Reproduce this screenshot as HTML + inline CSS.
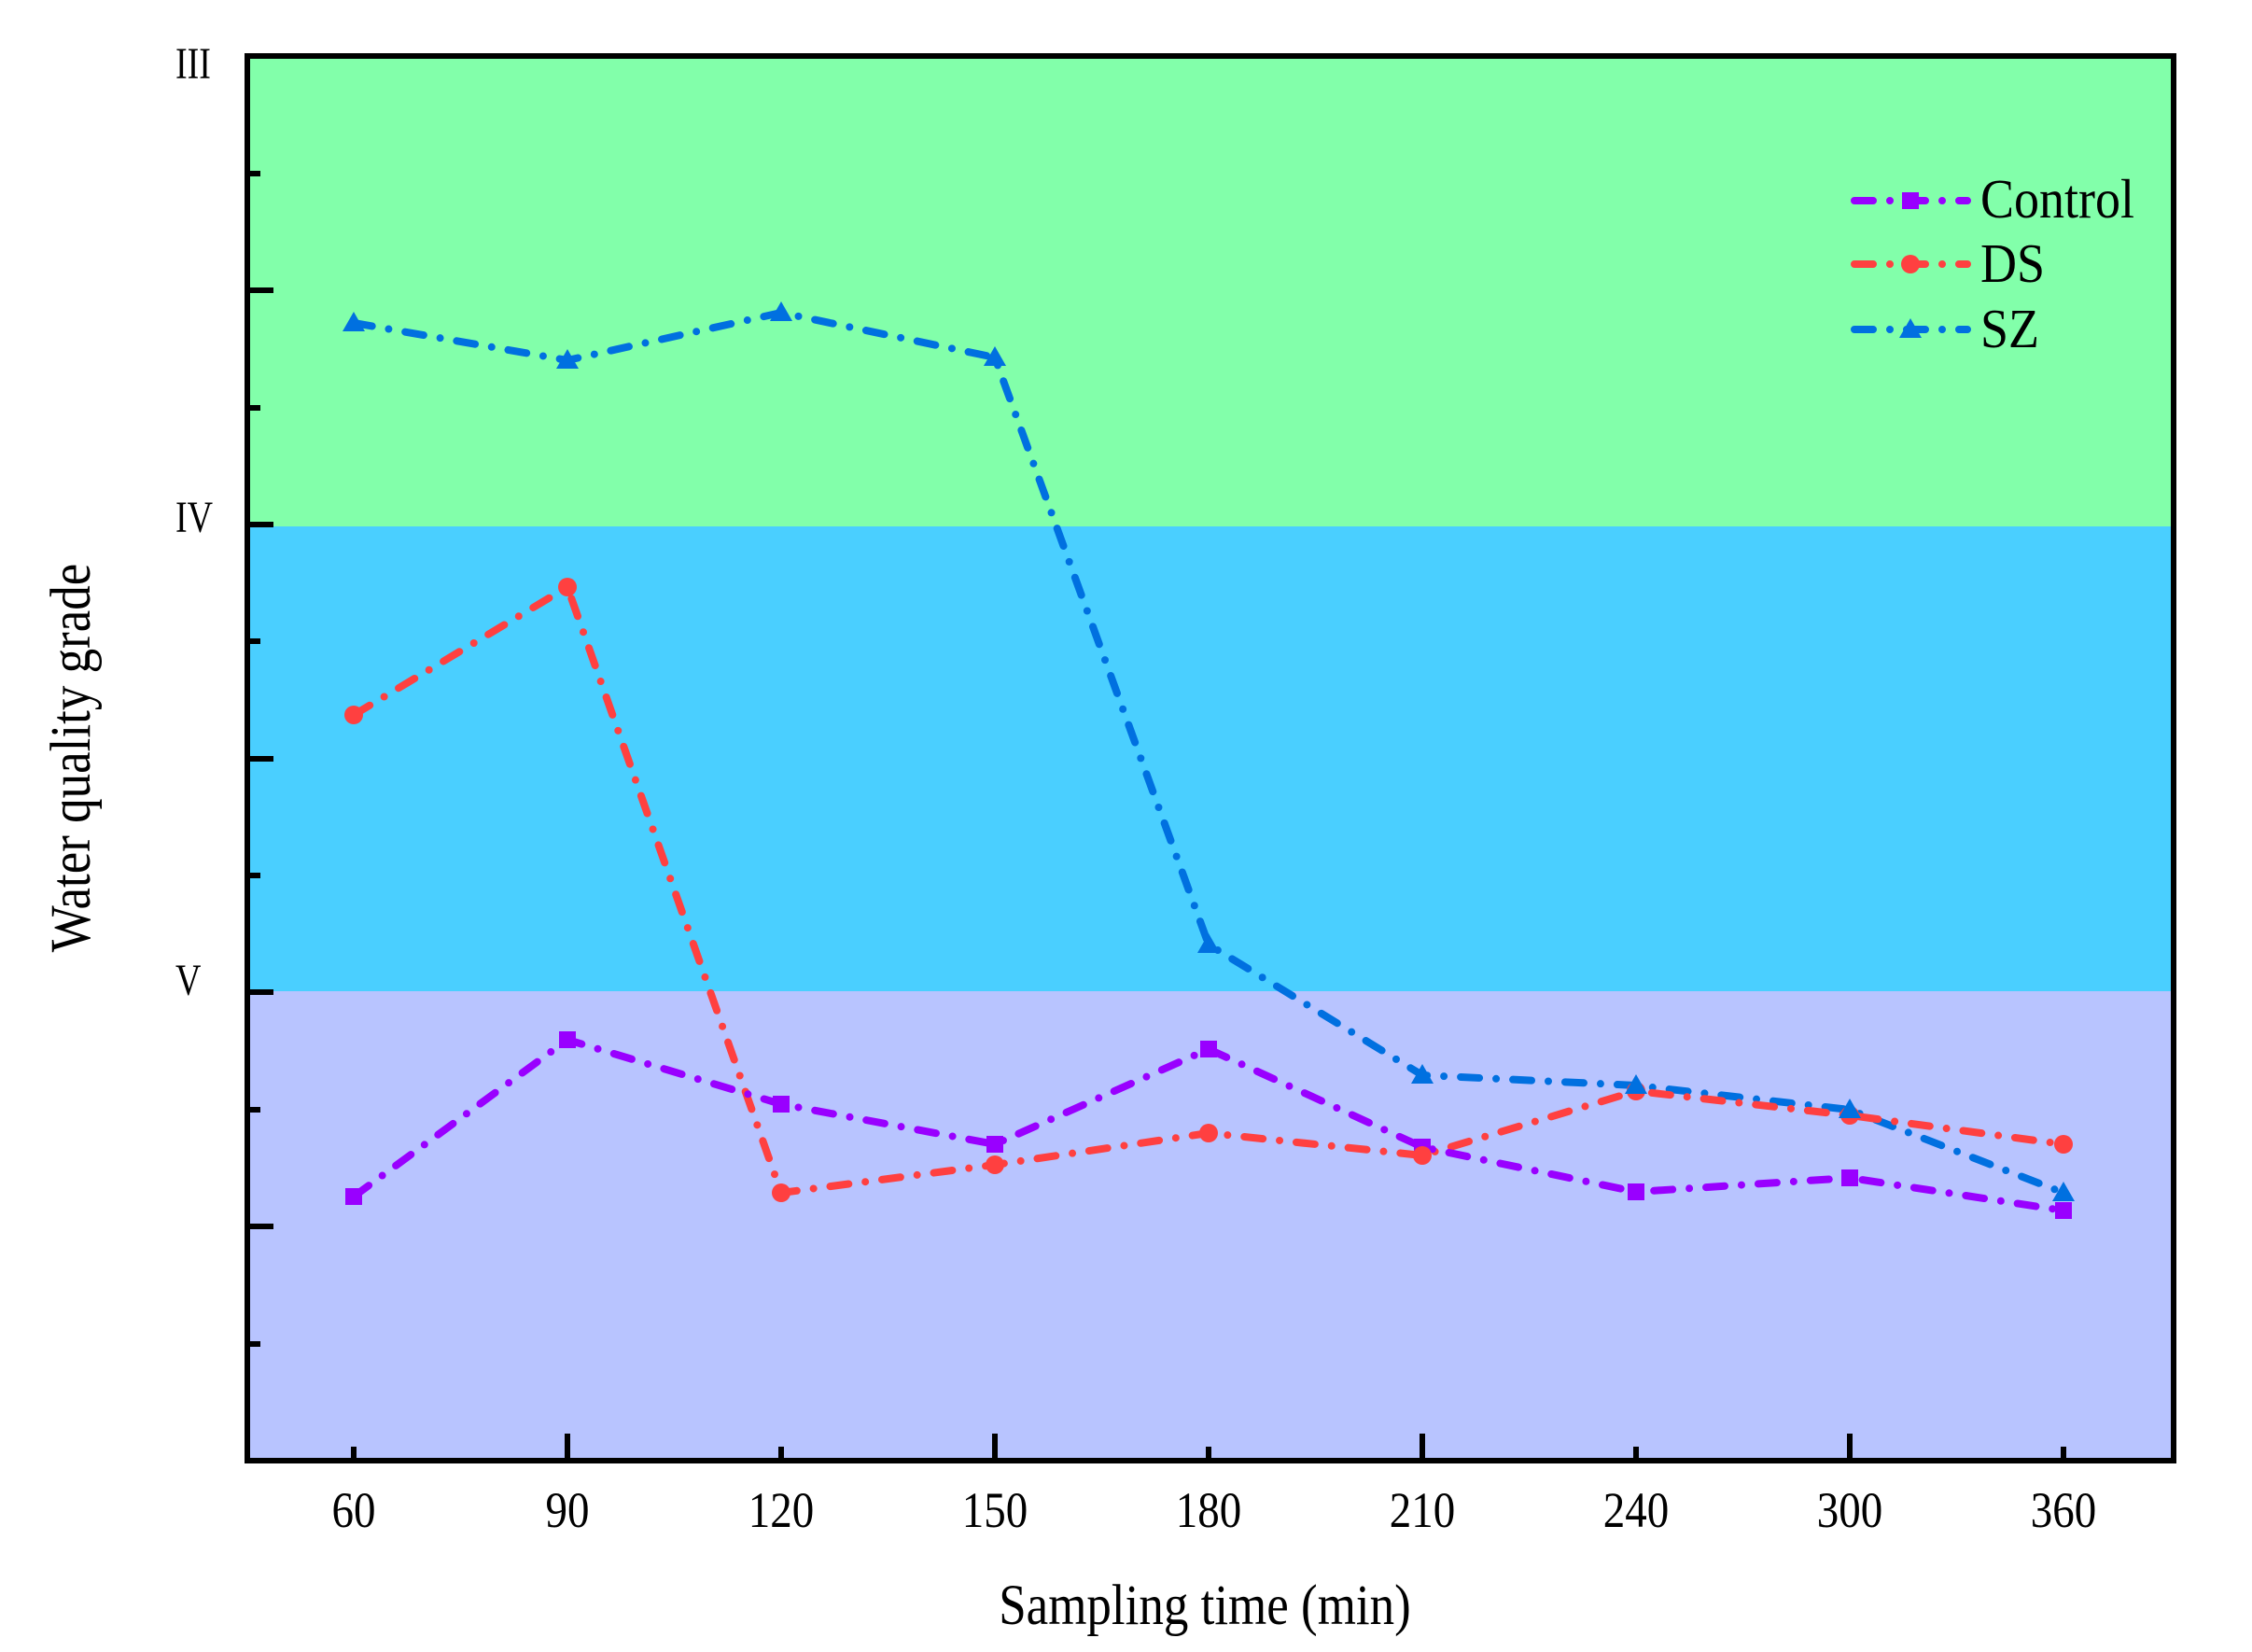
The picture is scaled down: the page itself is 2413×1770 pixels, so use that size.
<!DOCTYPE html>
<html><head><meta charset="utf-8"><style>body{margin:0;background:#fff}svg{display:block}</style></head>
<body>
<svg width="2413" height="1770" viewBox="0 0 2413 1770" xmlns="http://www.w3.org/2000/svg" font-family="'Liberation Serif', serif">
<rect x="266" y="60" width="2063" height="504" fill="#82FFAA"/>
<rect x="266" y="564" width="2063" height="498" fill="#4ACFFF"/>
<rect x="266" y="1062" width="2063" height="503" fill="#B8C4FF"/>
<g stroke="#000" stroke-width="6">
<line x1="265" y1="1565" x2="2329" y2="1565"/>
<line x1="265" y1="60" x2="2332" y2="60"/>
<line x1="265" y1="57" x2="265" y2="1568"/>
<line x1="2329" y1="57" x2="2329" y2="1568"/>
<line x1="265" y1="186" x2="279" y2="186"/><line x1="265" y1="311" x2="293" y2="311"/>
<line x1="265" y1="437" x2="279" y2="437"/><line x1="265" y1="562" x2="293" y2="562"/>
<line x1="265" y1="687" x2="279" y2="687"/><line x1="265" y1="813" x2="293" y2="813"/>
<line x1="265" y1="938" x2="279" y2="938"/><line x1="265" y1="1063" x2="293" y2="1063"/>
<line x1="265" y1="1189" x2="279" y2="1189"/><line x1="265" y1="1314" x2="293" y2="1314"/>
<line x1="265" y1="1440" x2="279" y2="1440"/>
<line x1="379" y1="1565" x2="379" y2="1550"/><line x1="608" y1="1565" x2="608" y2="1536"/>
<line x1="837" y1="1565" x2="837" y2="1550"/><line x1="1066" y1="1565" x2="1066" y2="1536"/>
<line x1="1295" y1="1565" x2="1295" y2="1550"/><line x1="1524" y1="1565" x2="1524" y2="1536"/>
<line x1="1753" y1="1565" x2="1753" y2="1550"/><line x1="1982" y1="1565" x2="1982" y2="1536"/>
<line x1="2211" y1="1565" x2="2211" y2="1550"/>
</g>
<g font-size="38" fill="#000">
<text transform="translate(188,84) scale(1,1.25)">III</text>
<text transform="translate(188,570) scale(1,1.25)">IV</text>
<text transform="translate(188,1066) scale(1,1.25)">V</text>
</g>
<g font-size="47" text-anchor="middle" fill="#000">
<text transform="translate(379,1636) scale(1,1.15)">60</text><text transform="translate(608,1636) scale(1,1.15)">90</text><text transform="translate(837,1636) scale(1,1.15)">120</text>
<text transform="translate(1066,1636) scale(1,1.15)">150</text><text transform="translate(1295,1636) scale(1,1.15)">180</text><text transform="translate(1524,1636) scale(1,1.15)">210</text>
<text transform="translate(1753,1636) scale(1,1.15)">240</text><text transform="translate(1982,1636) scale(1,1.15)">300</text><text transform="translate(2211,1636) scale(1,1.15)">360</text>
</g>
<text transform="translate(1291,1740) scale(1,1.15)" font-size="53" text-anchor="middle">Sampling time (min)</text>
<text transform="translate(96,812) rotate(-90) scale(1,1.15)" font-size="53" text-anchor="middle">Water quality grade</text>
<g fill="none" stroke-width="8" stroke-linecap="round" stroke-linejoin="round" stroke-dasharray="20 18 0 18">
<polyline stroke="#0070E0" points="379,346 608,386 837,335 1066,383 1295,1012 1524,1152 1753,1163 1982,1189 2211,1278"/>
<polyline stroke="#FF4040" points="379,766 608,629 837,1278 1066,1248 1295,1214 1524,1238 1753,1169 1982,1195 2211,1226"/>
<polyline stroke="#9900FF" points="379,1282 608,1114 837,1183 1066,1226 1295,1124 1524,1229 1753,1277 1982,1262 2211,1297"/>
<line stroke="#9900FF" x1="1987" y1="215" x2="2108" y2="215"/>
<line stroke="#FF4040" x1="1987" y1="283" x2="2108" y2="283"/>
<line stroke="#0070E0" x1="1987" y1="353" x2="2108" y2="353"/>
</g>
<g fill="#9900FF">
<rect x="370" y="1273" width="18" height="18"/><rect x="599" y="1105" width="18" height="18"/><rect x="828" y="1174" width="18" height="18"/>
<rect x="1057" y="1217" width="18" height="18"/><rect x="1286" y="1115" width="18" height="18"/><rect x="1515" y="1220" width="18" height="18"/>
<rect x="1744" y="1268" width="18" height="18"/><rect x="1973" y="1253" width="18" height="18"/><rect x="2202" y="1288" width="18" height="18"/>
<rect x="2038" y="206" width="18" height="18"/>
</g>
<g fill="#FF4040">
<circle cx="379" cy="766" r="10"/><circle cx="608" cy="629" r="10"/><circle cx="837" cy="1278" r="10"/>
<circle cx="1066" cy="1248" r="10"/><circle cx="1295" cy="1214" r="10"/><circle cx="1524" cy="1238" r="10"/>
<circle cx="1753" cy="1169" r="10"/><circle cx="1982" cy="1195" r="10"/><circle cx="2211" cy="1226" r="10"/>
<circle cx="2047" cy="283" r="10"/>
</g>
<g fill="#0070E0">
<polygon points="379,334 367,355 391,355"/><polygon points="608,374 596,395 620,395"/><polygon points="837,323 825,344 849,344"/>
<polygon points="1066,371 1054,392 1078,392"/><polygon points="1295,1000 1283,1021 1307,1021"/><polygon points="1524,1140 1512,1161 1536,1161"/>
<polygon points="1753,1151 1741,1172 1765,1172"/><polygon points="1982,1177 1970,1198 1994,1198"/><polygon points="2211,1266 2199,1287 2223,1287"/>
<polygon points="2047,341 2035,362 2059,362"/>
</g>
<g font-size="54" fill="#000">
<text transform="translate(2122,233) scale(1,1.1)">Control</text><text transform="translate(2122,302) scale(1,1.1)">DS</text><text transform="translate(2122,372) scale(1,1.1)">SZ</text>
</g>
</svg>
</body></html>
